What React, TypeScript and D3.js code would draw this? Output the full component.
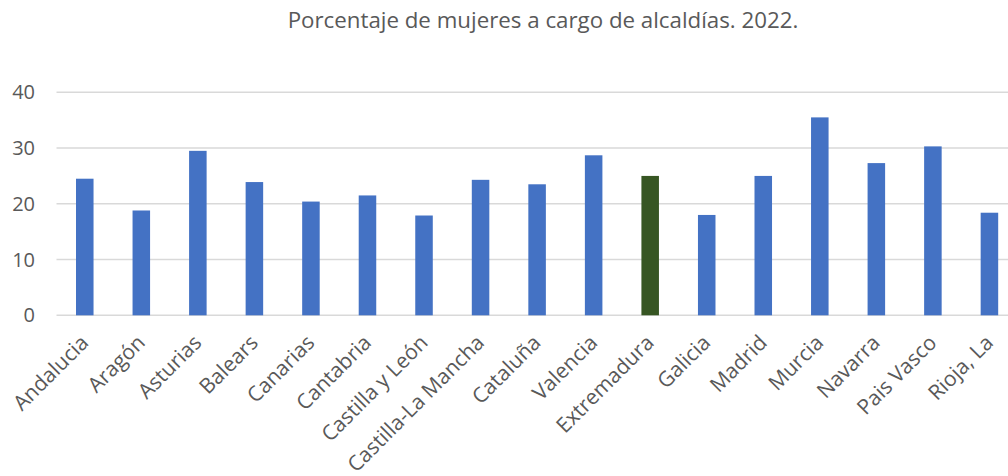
import * as d3 from "d3";
import { useEffect, useRef } from "react";

const regions = [
  "Andalucia", "Aragón", "Asturias", "Balears", "Canarias", "Cantabria",
  "Castilla y León", "Castilla-La Mancha", "Cataluña", "Valencia", "Extremadura",
  "Galicia", "Madrid", "Murcia", "Navarra", "Pais Vasco", "Rioja, La",
];
const values = [
  24.5, 18.8, 29.5, 23.9, 20.4, 21.5, 17.9, 24.3, 23.5, 28.7, 25.0,
  18.0, 25.0, 35.5, 27.3, 30.3, 18.4,
];
const yTicks = [0, 10, 20, 30, 40];
const highlight = "Extremadura";
const title = "Porcentaje de mujeres a cargo de alcaldías. 2022.";

export default function App() {
  const ref = useRef<SVGSVGElement>(null);
  const width = 1008;
  const height = 476;

  useEffect(() => {
    const svg = d3.select(ref.current);
    svg.selectAll("*").remove();

    const x = d3.scaleBand<string>()
      .domain(regions)
      .range([56.5, 1017.7])
      .paddingInner(0.69)
      .paddingOuter(0.345);
    const y = d3.scaleLinear().domain([0, 40]).range([315.3, 92.3]);

    const font = "'Open Sans', sans-serif";

    svg.append("text")
      .attr("x", 543)
      .attr("y", 28)
      .attr("text-anchor", "middle")
      .attr("font-family", font)
      .attr("font-size", 22.3)
      .attr("fill", "#595959")
      .text(title);

    // gridlines
    svg.append("g")
      .selectAll("line")
      .data(yTicks)
      .join("line")
      .attr("x1", 56.5)
      .attr("x2", 1017.7)
      .attr("y1", d => y(d))
      .attr("y2", d => y(d))
      .attr("stroke", "#d9d9d9")
      .attr("stroke-width", 1.5);

    svg.append("g")
      .selectAll("text")
      .data(yTicks)
      .join("text")
      .attr("x", 35)
      .attr("y", d => y(d))
      .attr("dy", "0.35em")
      .attr("text-anchor", "end")
      .attr("font-family", font)
      .attr("font-size", 20)
      .attr("fill", "#595959")
      .text(d => d);

    svg.append("g")
      .selectAll("rect")
      .data(regions)
      .join("rect")
      .attr("x", d => x(d)!)
      .attr("width", x.bandwidth())
      .attr("y", (d, i) => y(values[i]))
      .attr("height", (d, i) => y(0) - y(values[i]))
      .attr("fill", d => (d === highlight ? "#375623" : "#4472C4"));

    svg.append("g")
      .selectAll("text")
      .data(regions)
      .join("text")
      .attr("text-anchor", "end")
      .attr("font-family", font)
      .attr("font-size", 21)
      .attr("fill", "#595959")
      .attr("transform", d => `translate(${x(d)! + x.bandwidth() / 2 + 5},${344}) rotate(-45)`)
      .text(d => d);
  }, []);

  return (
    <svg
      ref={ref}
      width={width}
      height={height}
      style={{ position: "absolute", left: 0, top: 0, background: "white", overflow: "hidden" }}
    />
  );
}
